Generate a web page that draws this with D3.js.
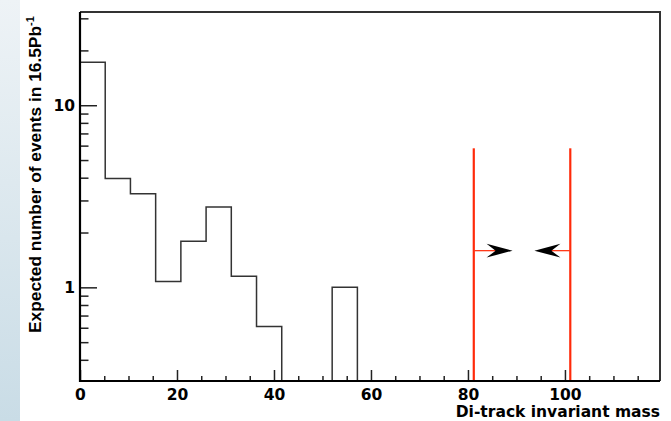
<!DOCTYPE html>
<html>
<head>
<meta charset="utf-8">
<script src="https://cdn.jsdelivr.net/npm/d3@7"></script>
<style>
  html, body { margin: 0; padding: 0; background: #fff; }
  svg { display: block; font-family: "DejaVu Sans", sans-serif; font-weight: bold; }
</style>
</head>
<body>
<svg width="671" height="421"></svg>
<script>
// histogram: 23 bins of 5.2 from 0
var binWidth = 5.2;
var counts = [17.2, 3.96, 3.27, 1.075, 1.79, 2.76, 1.15, 0.61, 0, 0, 1.0, 0,
  0, 0, 0, 0, 0, 0, 0, 0, 0, 0, 0];
var xMajorTicks = [0, 20, 40, 60, 80, 100];
var xMinorTicks = [5, 10, 15, 25, 30, 35, 45, 50, 55, 65, 70, 75, 85, 90, 95, 105, 110, 115];
var yMajorTicks = [1, 10];
var yMinorTicks = [0.4, 0.5, 0.6, 0.7, 0.8, 0.9, 2, 3, 4, 5, 6, 7, 8, 9, 20, 30];
// mass window cuts and arrow tips
var cuts = [81.2, 101.1];
var cutTop = 5.8;
var arrowLevel = 1.59;
var arrowTips = [89.2, 93.7];

document.addEventListener("DOMContentLoaded", function () {
  draw();

  function draw() {
    var svg = d3.select("svg");
    var left = 80, right = 660, top = 12, bottom = 381;

    var x = d3.scaleLinear().domain([0, 119.6]).range([left, right]);
    var y = d3.scaleLog().domain([0.306, 32.5]).range([bottom, top]);

    // bluish strip at left edge
    var grad = svg.append("defs").append("linearGradient")
      .attr("id", "strip").attr("x1", 0).attr("y1", 0).attr("x2", 0).attr("y2", 1);
    grad.append("stop").attr("offset", "0%").attr("stop-color", "#eef3f6");
    grad.append("stop").attr("offset", "100%").attr("stop-color", "#c9dce6");
    svg.append("rect").attr("x", 0).attr("y", 0).attr("width", 20).attr("height", 421)
      .attr("fill", "url(#strip)");

    // frame top/right
    svg.append("path")
      .attr("d", "M" + left + "," + top + "H" + right + "V" + bottom)
      .attr("fill", "none").attr("stroke", "#333").attr("stroke-width", 2);

    // histogram outline
    var pts = [[x(0), bottom]];
    counts.forEach(function (c, i) {
      var yy = c > 0 ? y(c) : bottom;
      pts.push([x(i * binWidth), yy]);
      pts.push([x((i + 1) * binWidth), yy]);
    });
    pts.push([x(counts.length * binWidth), bottom]);
    svg.append("path")
      .attr("d", d3.line()(pts))
      .attr("fill", "none").attr("stroke", "#333").attr("stroke-width", 1.5);

    // x axis
    svg.append("g").attr("transform", "translate(0," + bottom + ")")
      .call(d3.axisBottom(x).tickValues(xMajorTicks).tickSize(-11).tickPadding(8)
        .tickFormat(d3.format("d")));
    svg.append("g").attr("transform", "translate(0," + bottom + ")")
      .call(d3.axisBottom(x).tickValues(xMinorTicks).tickSize(-5).tickFormat(""));

    // y axis
    svg.append("g").attr("transform", "translate(" + left + ",0)")
      .call(d3.axisLeft(y).tickValues(yMajorTicks).tickSize(-17).tickPadding(5)
        .tickFormat(d3.format("d")));
    svg.append("g").attr("transform", "translate(" + left + ",0)")
      .call(d3.axisLeft(y).tickValues(yMinorTicks).tickSize(-8.5).tickFormat(""));

    svg.selectAll(".domain").remove();
    svg.selectAll(".tick line").attr("stroke", "#222").attr("stroke-width", 1.5);
    svg.selectAll(".tick text")
      .style("font-family", "DejaVu Sans").style("font-weight", "bold")
      .style("font-size", "15.5px").attr("fill", "#000");

    // axis lines
    svg.append("path")
      .attr("d", "M" + left + "," + top + "V" + bottom + "H" + right)
      .attr("fill", "none").attr("stroke", "#000").attr("stroke-width", 2.2);

    // cut lines
    svg.selectAll("line.cut")
      .data(cuts)
      .enter().append("line")
      .attr("class", "cut")
      .attr("x1", function (d) { return x(d); })
      .attr("x2", function (d) { return x(d); })
      .attr("y1", y(cutTop))
      .attr("y2", bottom - 1)
      .attr("stroke", "#ff2a0a").attr("stroke-width", 2.2);

    // arrows
    cuts.forEach(function (c, i) {
      var x0 = x(c), xt = x(arrowTips[i]), ay = y(arrowLevel);
      var dir = xt > x0 ? 1 : -1;
      svg.append("line")
        .attr("x1", x0).attr("x2", xt - dir * 16).attr("y1", ay).attr("y2", ay)
        .attr("stroke", "#ff3a1a").attr("stroke-width", 1.3);
      var back = xt - dir * 26, notch = xt - dir * 17;
      svg.append("path")
        .attr("d", "M" + xt + "," + ay + "L" + back + "," + (ay - 6.9) +
          "L" + notch + "," + ay + "L" + back + "," + (ay + 6.9) + "Z")
        .attr("fill", "#000");
    });

    // titles
    svg.append("text")
      .attr("x", right).attr("y", 417)
      .attr("text-anchor", "end")
      .style("font-size", "15.5px")
      .text("Di-track invariant mass");

    var yt = svg.append("text")
      .attr("transform", "translate(41,333) rotate(-90)")
      .style("font-family", "'Liberation Sans', Arial, sans-serif")
      .style("font-size", "16px");
    yt.append("tspan")
      .attr("textLength", 307).attr("lengthAdjust", "spacingAndGlyphs")
      .text("Expected number of events in 16.5Pb");
    yt.append("tspan").attr("dy", -7).style("font-size", "11px").text("-1");
  }
});
</script>
</body>
</html>
